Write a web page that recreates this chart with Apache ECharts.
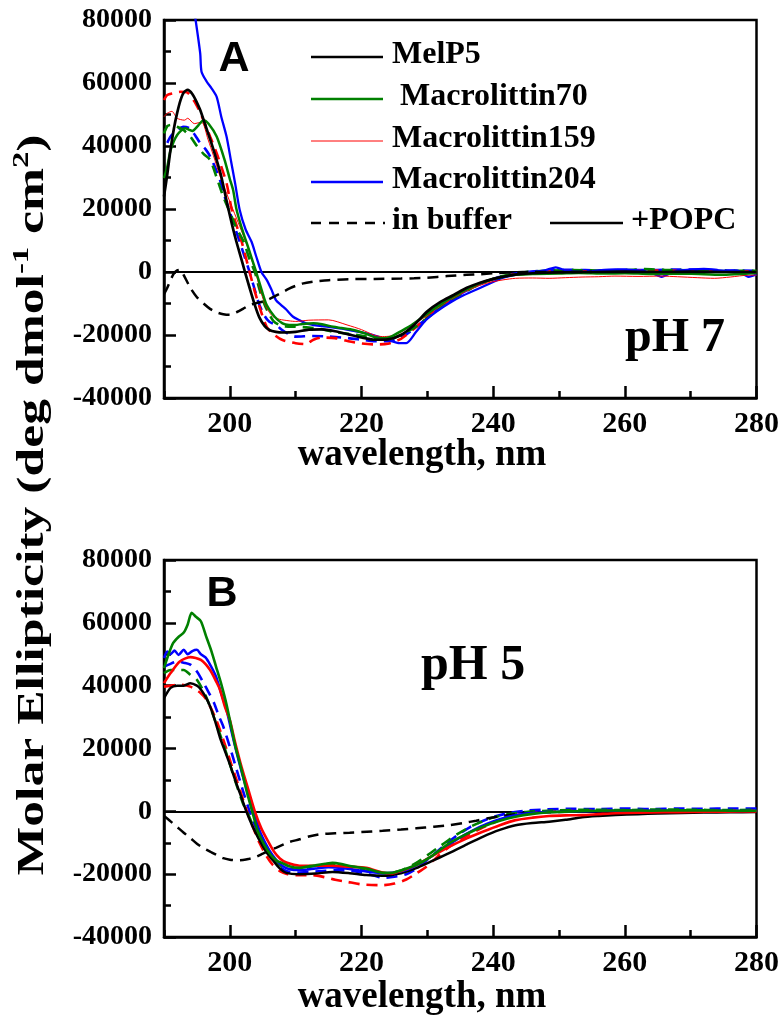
<!DOCTYPE html>
<html><head><meta charset="utf-8">
<script src="https://cdn.jsdelivr.net/npm/echarts@6/dist/echarts.min.js"></script>
<style>html,body{margin:0;padding:0;background:#fff}#c{width:782px;height:1017px}</style>
</head><body><div id="c"></div>
<script>
// ---------- tick labels ----------
const xMajorTicks = [200, 220, 240, 260, 280];
const legendNames = ['MelP5', ' Macrolittin70', 'Macrolittin159', 'Macrolittin204'];
const panelLabels = ['A', 'B'];
const phLabels = ['pH 7', 'pH 5'];

// ---------- Panel A (pH 7) ----------
const A_MelP5_POPC = [[190,24000],[190.5,31000],[191,39000],[191.5,45500],[192,50500],[192.5,54500],[193,57000],[193.6,57800],[194.3,56500],[195,53800],[195.5,51400],[196.3,46500],[197.2,40900],[198,35500],[198.7,30300],[199.7,20700],[200.4,14500],[201,9600],[201.7,4500],[202.3,0],[203,-5000],[203.8,-10500],[204.5,-14500],[205.3,-17200],[206,-18400],[207,-19000],[208,-19200],[210,-19000],[212,-18300],[214,-18200],[216,-18800],[218,-19800],[220,-20800],[222,-21500],[224,-21400],[226,-20000],[228,-16800],[230,-12500],[232,-9500],[234,-7300],[236,-5000],[238,-3400],[240,-2200],[242,-1300],[244,-700],[246,-400],[250,-100],[255,0],[260,100],[265,0],[270,100],[275,0],[280,0]];
const A_MelP5_buf = [[190,-7000],[190.5,-5000],[191,-2500],[191.5,-500],[192,500],[192.5,700],[193,-1000],[194,-5000],[195,-8000],[196,-10000],[197,-11700],[198,-12800],[199,-13400],[200,-13600],[201,-12800],[202,-11700],[203,-10500],[204,-9900],[205,-9400],[206,-8600],[207,-7500],[208,-6400],[209,-5300],[210,-4400],[211,-3700],[213,-3000],[215,-2600],[218,-2300],[222,-2200],[226,-2100],[228,-2000],[230,-1800],[233,-1300],[236,-900],[238,-700],[240,-400],[243,-100],[246,0],[250,0],[255,0]];
const A_M70_POPC = [[190,29800],[190.5,33400],[191,38700],[192,43500],[193.2,45600],[194.3,44800],[195.2,46500],[196,48200],[196.8,47000],[198,43000],[199.2,35600],[200,29500],[200.5,26000],[201,20000],[201.8,14000],[202.6,9000],[203.3,4500],[204,0],[204.8,-5500],[205.6,-10500],[206.8,-14200],[208,-16300],[209,-16800],[210,-16800],[211,-16500],[212.7,-16300],[214,-16600],[215.7,-17400],[217,-17800],[218.8,-18400],[220.5,-19500],[222,-20700],[223.2,-21000],[224.5,-20500],[225.8,-19000],[227.5,-17000],[229.5,-14000],[231.5,-11000],[233.5,-8300],[235.5,-6000],[237.5,-4000],[239.5,-2500],[241.5,-1500],[243.5,-900],[246,-600],[250,-500],[253,-300],[257,-500],[260,-400],[264,-600],[268,-500],[272,-700],[275,-900],[278,-600],[280,-300]];
const A_M70_buf = [[190,44000],[190.5,46300],[191,46700],[192,46100],[193,45000],[194,43000],[195,40000],[196,37500],[197,35600],[198,30000],[199,23900],[200,19000],[201,14000],[202.1,9600],[203,4000],[203.8,0],[204.5,-5500],[205.3,-10500],[206,-13500],[206.6,-15500],[207.5,-16800],[208.5,-17300],[210,-17400],[212,-17600],[214,-18200],[215.7,-19000],[218,-19600],[220.7,-20500],[222,-21200],[223.5,-21500],[225,-20800],[226.5,-19500],[228.5,-17000],[230.5,-13800],[232.5,-10600],[234.5,-7800],[236.5,-5400],[238.5,-3400],[240.5,-1800],[242.5,-800],[245,0],[248,400],[252,600],[256,500],[260,600],[263,900],[266,700],[270,500],[274,300],[278,400],[280,400]];
const A_M159_POPC = [[190,49300],[190.5,50400],[191.2,51000],[192,48800],[193.1,48200],[193.6,48800],[194.6,47100],[195.7,47600],[196.7,42000],[197.5,37000],[198.5,30500],[199.5,25000],[200.5,19700],[201.5,14500],[202.6,8500],[203.3,4000],[203.9,0],[204.6,-5500],[205.3,-10000],[206,-12800],[206.6,-14200],[207.5,-15000],[209,-15500],[210,-15700],[212,-15300],[215,-15200],[217.8,-16800],[220,-18300],[222,-20100],[223.2,-20500],[224.5,-20300],[225.8,-19300],[227.5,-17200],[229.5,-14500],[231.5,-11500],[233.5,-8800],[235.5,-6500],[237.5,-4600],[239.5,-3300],[241.5,-2500],[243.4,-2000],[246,-1900],[248.5,-2000],[251,-1800],[253.5,-1600],[256,-1500],[258.5,-1300],[262,-1400],[265.6,-1300],[268,-1500],[271,-1800],[273.6,-2000],[276,-1600],[278.8,-1000],[280,-1000]];
const A_M159_buf = [[190,54600],[190.5,56200],[191.5,56800],[192.5,57200],[193.5,57000],[194.5,54500],[195.3,51500],[196,48200],[197,43000],[198,37700],[199.5,28200],[200.3,19700],[201.8,9600],[203,0],[203.7,-5500],[204.5,-11000],[205.6,-17400],[206.8,-20000],[208,-21600],[210,-22600],[211.5,-22900],[212.7,-21500],[214,-20800],[216,-21000],[218,-22000],[220,-22700],[222,-23000],[224,-22800],[226,-21200],[228,-18000],[230,-14300],[232,-10800],[234,-8000],[236,-5600],[238,-3700],[240,-2300],[242,-1200],[245,-300],[250,300],[255,200],[260,400],[265,500],[270,300],[275,200],[280,100]];
const A_M204_POPC = [[193.5,100000],[194.2,88000],[194.8,80000],[195.5,69400],[195.7,63600],[196.5,60400],[197.2,58400],[198,55600],[198.7,49300],[199.5,43000],[200.2,35000],[200.8,28200],[201.5,19700],[202.4,13500],[203.3,9600],[204,5000],[204.8,0],[205.6,-2500],[206.3,-5500],[207,-8900],[207.8,-10500],[208.6,-12000],[209.6,-14200],[210.6,-15300],[211.6,-16300],[213.3,-17000],[215,-17400],[217,-18000],[219,-18800],[220.7,-19500],[222.5,-20500],[224,-21500],[225.8,-22600],[226.8,-22600],[228.3,-19000],[229.8,-15200],[231.5,-12400],[233.3,-9900],[235.5,-7400],[238.4,-4700],[241.4,-1900],[243.5,-800],[246,0],[248,600],[249.5,1500],[251,500],[253.5,0],[256,500],[258.6,800],[262,500],[264,-300],[265.6,-1500],[267,-300],[268.5,500],[272,1000],[275.5,300],[277,500],[278.8,-1500],[280,-800]];
const A_M204_buf = [[190.5,41000],[191,43000],[192,45000],[192.9,46100],[193.9,45600],[194.7,43500],[195.5,40900],[196.3,39000],[197,36700],[197.8,33000],[198.5,29200],[199.2,24000],[199.9,19700],[200.7,14500],[201.5,9600],[202.3,4500],[203,0],[203.7,-5000],[204.5,-10500],[205.3,-14000],[206,-15800],[207,-16800],[208,-18500],[209,-19800],[210,-20500],[212.6,-20300],[215,-20500],[218,-21000],[220,-21500],[222,-22000],[224,-22000],[226,-20800],[228,-18000],[230,-14500],[232,-11200],[234,-8300],[236,-5800],[238,-3800],[240,-2200],[242,-1000],[245,0],[248,500],[252,700],[256,500],[260,700],[264,600],[268,800],[272,700],[276,500],[280,400]];

// ---------- Panel B (pH 5) ----------
const B_MelP5_POPC = [[190,36000],[191,39300],[192,40000],[193,40000],[194,40800],[195,40000],[195.6,38800],[196.3,36500],[197,33400],[197.8,28500],[198.5,23500],[199.2,19500],[200,15000],[200.8,10000],[201.7,4800],[202.5,0],[203.5,-5000],[204.5,-9200],[205.5,-12800],[206.5,-15500],[207.5,-18000],[208.6,-19600],[210.6,-20000],[213,-19800],[215.6,-19300],[218.2,-19700],[220.7,-20300],[223.2,-20500],[226,-19700],[228.3,-18100],[230.5,-16000],[233.3,-13300],[236,-10500],[238.4,-8100],[241,-5900],[243.4,-4400],[246,-3700],[248.5,-3300],[251,-2700],[253.5,-1900],[256,-1500],[258.6,-1200],[262,-900],[265,-700],[268.7,-500],[272,-400],[276,-300],[280,-200]];
const B_MelP5_buf = [[190,-1500],[191,-3200],[192,-5000],[193,-6800],[194,-8500],[195,-10300],[196,-11700],[197,-12800],[198,-13900],[199,-14900],[200,-15400],[201,-15600],[202,-15500],[203,-15100],[204,-14500],[205,-13500],[206,-12500],[207,-11600],[208,-10700],[209,-9800],[210.6,-8900],[212,-8000],[214,-7200],[216,-7000],[218.2,-6800],[220,-6600],[223.2,-6200],[226,-5800],[228.3,-5400],[231,-4900],[233.3,-4400],[235.5,-3700],[237.4,-3000],[239,-2300],[241,-1600],[243,-1000],[246,-500],[250,-200],[255,0]];
const B_M70_POPC = [[190,45600],[190.7,50000],[191.4,53600],[192.2,55500],[193,56900],[193.6,59500],[194.2,63200],[194.8,62000],[195.6,60500],[196.4,55700],[197.2,51000],[197.9,46100],[198.7,40500],[199.5,34000],[200.3,26000],[200.8,21000],[201.8,13000],[202.6,6000],[203.4,0],[204.2,-6000],[205.2,-10500],[206.2,-13800],[207.2,-15800],[208,-16500],[209,-17500],[210.6,-18000],[212,-17500],[213,-17200],[214.5,-16700],[215.6,-16400],[217,-16800],[218.5,-17500],[220.7,-18200],[223,-19500],[224.5,-19600],[226,-18800],[228.3,-17100],[230.5,-14500],[233.3,-10200],[236,-7200],[238.4,-4900],[241,-3000],[243.4,-1700],[246,-800],[248.5,-300],[252,0],[256,200],[260,300],[264,200],[268,300],[272,300],[276,200],[280,200]];
const B_M70_buf = [[190,44000],[191,45000],[192.2,45000],[193,45000],[194,43500],[195,41900],[196.4,36500],[197.9,28100],[199,21500],[200,15000],[201,8500],[202,2500],[202.6,0],[203.5,-4500],[204.5,-9000],[205.5,-12500],[206.5,-15000],[207.5,-17000],[208.5,-18200],[210,-18500],[212,-17800],[214,-17000],[216,-16800],[218,-17500],[220,-18500],[222,-19500],[224,-19700],[226,-18800],[228,-16800],[230,-14000],[232,-11000],[234,-8000],[236,-5500],[238,-3500],[240,-2000],[242,-1000],[245,-200],[250,300],[255,500],[260,400],[265,600],[270,500],[275,400],[280,500]];
const B_M159_POPC = [[190,40800],[191,44000],[192.4,47700],[194,49100],[195.6,48200],[197,45000],[198,41000],[198.5,38700],[199.3,33000],[200,29100],[200.8,22000],[201.8,14000],[202.8,7000],[203.8,0],[204.8,-5500],[205.8,-9500],[206.7,-12800],[207.6,-15000],[208.6,-16300],[210.6,-17300],[213,-17300],[215.6,-17300],[218,-17600],[220.7,-18000],[223.2,-19500],[224.5,-19800],[226,-19000],[228.3,-17100],[230.5,-14500],[233.3,-11300],[236,-8600],[238.4,-6500],[241,-4400],[243.4,-2800],[246,-2000],[248.5,-1500],[251,-1300],[253.5,-1200],[256,-900],[258.6,-600],[262,-400],[266,-300],[270,-200],[275,-100],[280,0]];
const B_M159_buf = [[190,39700],[191,40000],[192.1,40300],[193,40200],[194,39700],[195,38500],[195.6,37600],[196.3,36000],[197,33400],[197.8,29800],[198.5,25900],[199.3,21000],[200.3,14500],[201.5,7000],[202.6,0],[203.5,-5000],[204.5,-10000],[205.5,-14000],[206.5,-17000],[207.6,-19000],[208.8,-20000],[210,-20300],[212.6,-20300],[214.5,-21000],[216,-21800],[217.7,-22400],[220.2,-23300],[223.2,-23500],[225,-23000],[226.8,-21700],[228.3,-19800],[229.8,-17700],[231.5,-14500],[233.3,-11300],[236,-7800],[238.4,-5200],[241,-2800],[243.4,-1200],[246,-500],[250,0],[255,200],[260,300],[265,200],[270,300],[275,200],[280,300]];
const B_M204_POPC = [[190,48800],[190.5,50900],[191,50000],[191.6,51200],[192.2,49800],[193,51400],[193.6,50000],[194.3,51000],[195,51400],[195.6,50000],[196.3,49000],[197,46700],[197.9,42900],[198.7,37500],[199.5,32300],[200.3,25000],[201,19000],[202,11000],[203,4000],[203.6,0],[204.5,-6000],[205.5,-10500],[206.5,-14000],[207.5,-16500],[208.5,-18000],[209.5,-18600],[211,-18700],[213,-18200],[215,-17800],[217,-18000],[219,-18600],[221,-19200],[223,-19700],[225,-19500],[227,-18500],[229,-16500],[231,-13800],[233,-11000],[235,-8300],[237,-6000],[239,-4000],[241,-2500],[243,-1400],[245,-700],[248,-200],[252,0],[256,100],[260,200],[265,200],[270,200],[275,100],[280,200]];
const B_M204_buf = [[190,46000],[190.7,46700],[192.1,47700],[193,47300],[194,46700],[195,44500],[196,40900],[196.8,37800],[197.6,34500],[198.3,30500],[199,27000],[200,20500],[201,13500],[202,6500],[203,0],[204,-5500],[205,-10000],[206,-13500],[207,-16300],[208,-18300],[209,-19300],[210,-19500],[212,-19300],[214,-19000],[216,-18800],[218,-18800],[220,-19500],[222,-20500],[223.2,-21200],[225,-20800],[226.8,-20000],[228.5,-18000],[230.5,-14500],[232.5,-11000],[234.5,-7700],[236.5,-5000],[238.5,-3000],[240.5,-1500],[242.5,-500],[245,200],[248,600],[252,800],[256,700],[260,900],[264,700],[268,900],[272,800],[276,900],[280,900]];

const BLACK = '#000000', GREEN = '#008000', RED = '#ff0000', BLUE = '#0000ff';
const DASH = [11, 7];
const SERIF = '"Liberation Serif", "Times New Roman", serif';

const chart = echarts.init(document.getElementById('c'), null, {renderer: 'canvas'});

function xAxes(g) {
  return [{
    type: 'value', gridIndex: g, position: 'bottom', min: 190, max: 280,
    axisLine: {show: true, onZero: false, lineStyle: {color: BLACK, width: 2.5}},
    axisTick: {show: true, inside: true, length: 12, customValues: xMajorTicks, lineStyle: {color: BLACK, width: 2.5}},
    axisLabel: {customValues: xMajorTicks, color: BLACK, fontFamily: SERIF, fontWeight: 'bold', fontSize: 30, margin: 11},
    splitLine: {show: false}
  }, {
    type: 'value', gridIndex: g, position: 'bottom', min: 190, max: 280, interval: 10,
    axisLine: {show: false, onZero: false},
    axisTick: {show: true, inside: true, length: 7, lineStyle: {color: BLACK, width: 2.5}},
    axisLabel: {show: false}, splitLine: {show: false}
  }];
}
function yAxis(g) {
  return {
    type: 'value', gridIndex: g, min: -40000, max: 80000, interval: 20000,
    axisLine: {show: true, onZero: false, lineStyle: {color: BLACK, width: 2.5}},
    axisTick: {show: true, inside: true, length: 12, lineStyle: {color: BLACK, width: 2.5}},
    minorTick: {show: true, splitNumber: 2, length: 7, lineStyle: {color: BLACK, width: 2.5}},
    axisLabel: {color: BLACK, fontFamily: SERIF, fontWeight: 'bold', fontSize: 28, margin: 12,
      formatter: v => String(v)},
    splitLine: {show: false}, minorSplitLine: {show: false}
  };
}
function line(name, data, xi, yi, color, width, dashed, zero) {
  const s = {
    name: name, type: 'line', xAxisIndex: xi, yAxisIndex: yi, data: data,
    symbol: 'none', showSymbol: false, smooth: 0.25, clip: true, silent: true,
    lineStyle: {color: color, width: width, type: dashed ? DASH : 'solid'},
    z: 3
  };
  if (zero) {
    s.markLine = {silent: true, symbol: ['none', 'none'], label: {show: false},
      lineStyle: {color: BLACK, width: 2, type: 'solid'}, data: [{yAxis: 0}], z: 2};
  }
  return s;
}

const series = [
  line('Macrolittin204 buffer pH7', A_M204_buf, 0, 0, BLUE, 2.6, true, true),
  line('Macrolittin159 buffer pH7', A_M159_buf, 0, 0, RED, 2.6, true),
  line('Macrolittin70 buffer pH7', A_M70_buf, 0, 0, GREEN, 2.6, true),
  line('Macrolittin204 POPC pH7', A_M204_POPC, 0, 0, BLUE, 2.3, false),
  line('Macrolittin159 POPC pH7', A_M159_POPC, 0, 0, RED, 1, false),
  line('Macrolittin70 POPC pH7', A_M70_POPC, 0, 0, GREEN, 2.5, false),
  line('MelP5 buffer pH7', A_MelP5_buf, 0, 0, BLACK, 2.5, true),
  line('MelP5 POPC pH7', A_MelP5_POPC, 0, 0, BLACK, 2.7, false),

  line('Macrolittin204 buffer pH5', B_M204_buf, 2, 1, BLUE, 2.6, true, true),
  line('Macrolittin159 buffer pH5', B_M159_buf, 2, 1, RED, 2.6, true),
  line('Macrolittin70 buffer pH5', B_M70_buf, 2, 1, GREEN, 2.6, true),
  line('MelP5 buffer pH5', B_MelP5_buf, 2, 1, BLACK, 2.5, true),
  line('MelP5 POPC pH5', B_MelP5_POPC, 2, 1, BLACK, 2.5, false),
  line('Macrolittin204 POPC pH5', B_M204_POPC, 2, 1, BLUE, 2.5, false),
  line('Macrolittin159 POPC pH5', B_M159_POPC, 2, 1, RED, 2.6, false),
  line('Macrolittin70 POPC pH5', B_M70_POPC, 2, 1, GREEN, 2.6, false)
];

// legend (panel A) built with graphic elements
const legendColors = [BLACK, GREEN, RED, BLUE];
const legendWidths = [2.7, 2.7, 1, 2.5];
const legendRowsY = [57, 99, 141, 182, 223];
const graphics = [];
const legendFont = {fontFamily: SERIF, fontWeight: 'bold', fontSize: 32, fill: BLACK};
legendNames.forEach((n, i) => {
  graphics.push({type: 'line', shape: {x1: 311, y1: legendRowsY[i], x2: 383, y2: legendRowsY[i]},
    style: {stroke: legendColors[i], lineWidth: legendWidths[i]}, z: 10});
  graphics.push({type: 'text', x: 392, y: legendRowsY[i] - 2,
    style: Object.assign({text: n, align: 'left', verticalAlign: 'middle'}, legendFont), z: 10});
});
graphics.push({type: 'line', shape: {x1: 311, y1: 223, x2: 385, y2: 223},
  style: {stroke: BLACK, lineWidth: 2.5, lineDash: [10, 8]}, z: 10});
graphics.push({type: 'text', x: 392, y: 221,
  style: Object.assign({text: 'in buffer', align: 'left', verticalAlign: 'middle'}, legendFont), z: 10});
graphics.push({type: 'line', shape: {x1: 550, y1: 223, x2: 623, y2: 223},
  style: {stroke: BLACK, lineWidth: 2.5}, z: 10});
graphics.push({type: 'text', x: 631, y: 221,
  style: Object.assign({text: '+POPC', align: 'left', verticalAlign: 'middle'}, legendFont), z: 10});

// panel letters
graphics.push({type: 'text', x: 234, y: 59, style: {text: panelLabels[0], align: 'center', verticalAlign: 'middle',
  fontFamily: '"Liberation Sans", Arial, sans-serif', fontWeight: 'bold', fontSize: 43, fill: BLACK}, z: 10});
graphics.push({type: 'text', x: 222, y: 594, style: {text: panelLabels[1], align: 'center', verticalAlign: 'middle',
  fontFamily: '"Liberation Sans", Arial, sans-serif', fontWeight: 'bold', fontSize: 43, fill: BLACK}, z: 10});
// pH labels
graphics.push({type: 'text', x: 625, y: 339, style: {text: phLabels[0], align: 'left', verticalAlign: 'middle',
  fontFamily: SERIF, fontWeight: 'bold', fontSize: 48, fill: BLACK}, z: 10});
graphics.push({type: 'text', x: 421, y: 666, style: {text: phLabels[1], align: 'left', verticalAlign: 'middle',
  fontFamily: SERIF, fontWeight: 'bold', fontSize: 50, fill: BLACK}, z: 10});
// x titles
[455, 997].forEach(y => graphics.push({type: 'text', x: 422, y: y, style: {text: 'wavelength, nm', align: 'center', verticalAlign: 'middle',
  fontFamily: SERIF, fontWeight: 'bold', fontSize: 37, fill: BLACK}, z: 10}));
// y title
graphics.push({type: 'text', x: 33, y: 505, rotation: Math.PI / 2, scaleX: 1.36,
  style: {text: '{a|Molar Ellipticity (deg dmol}{s|-1}{a| cm}{s|2}{a|)}', align: 'center', verticalAlign: 'middle',
    rich: {
      a: {fontFamily: SERIF, fontWeight: 'bold', fontSize: 38, lineHeight: 46, fill: BLACK, verticalAlign: 'middle'},
      s: {fontFamily: SERIF, fontWeight: 'bold', fontSize: 24, lineHeight: 46, fill: BLACK, verticalAlign: 'top'}
    }}, z: 10});

chart.setOption({
  animation: false,
  backgroundColor: '#ffffff',
  grid: [
    {left: 164, top: 20, width: 593, height: 378, show: true, borderColor: BLACK, borderWidth: 2.5, backgroundColor: 'transparent'},
    {left: 164, top: 560, width: 593, height: 377, show: true, borderColor: BLACK, borderWidth: 2.5, backgroundColor: 'transparent'}
  ],
  xAxis: xAxes(0).concat(xAxes(1)),
  yAxis: [yAxis(0), yAxis(1)],
  series: series,
  graphic: graphics
});
</script></body></html>
